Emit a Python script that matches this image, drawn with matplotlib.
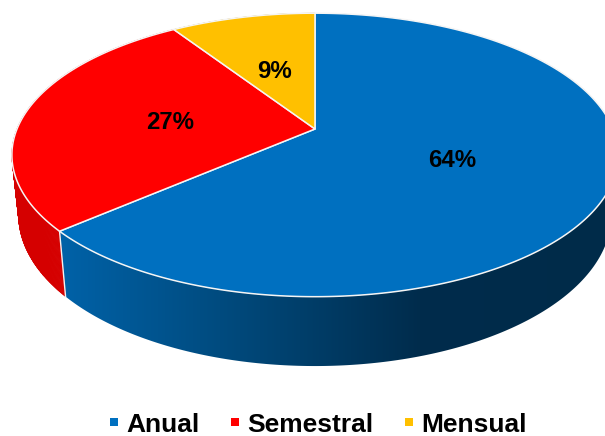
import numpy as np
import matplotlib
matplotlib.use("Agg")
import matplotlib.pyplot as plt
from matplotlib.lines import Line2D
from matplotlib.patches import Polygon
from matplotlib.colors import to_rgb

categories = ["Anual", "Semestral", "Mensual"]
values = [63.6, 27.2, 9.2]
labels = ["64%", "27%", "9%"]
top_colors = ["#0070C0", "#FF0000", "#FFC000"]
flat_wall_colors = [None, "#D50000", "#C89600"]

plt.rcParams["font.family"] = ["Liberation Sans", "DejaVu Sans"]

fig = plt.figure(figsize=(6.05, 4.36), dpi=100)
ax = fig.add_axes([0, 0, 1, 1])

# Perspective projection of the pie's top and bottom circles
CX = 315


def project(theta, apex_y, a, b, k):
    u, v = np.sin(theta), np.cos(theta)
    d = 1 + k * v
    return CX + a * u / d, apex_y - b * v / d


def top(theta):
    return project(theta, 129, 298, 137, 0.183)


def bottom(theta):
    return project(theta + 0.024, 192.4, 293, 147.6, 0.15)


fractions = np.array(values, dtype=float) / sum(values)
edges = np.concatenate([[0], np.cumsum(fractions)]) * 2 * np.pi

# The blue wall's shading runs left to right across the picture
shade_x = np.arange(605)
blue_stops_x = [60, 200, 300, 420, 610]
blue_stops = [to_rgb(c) for c in ["#0062A8", "#004E84", "#003F6B", "#002C4C", "#002B49"]]
blue_shade = np.array([[np.interp(shade_x, blue_stops_x, [s[j] for s in blue_stops])
                        for j in range(3)]]).transpose(0, 2, 1)

# Side walls, painted first so the top face covers the hidden part
for i in range(len(values)):
    th = np.linspace(edges[i], edges[i + 1], 300)
    xt, yt = top(th)
    xb, yb = bottom(th)
    if flat_wall_colors[i] is None:
        poly = Polygon(np.c_[np.r_[xt, xb[::-1]], np.r_[yt, yb[::-1]]],
                       closed=True, transform=ax.transData, fc="none", ec="none")
        ax.add_patch(poly)
        im = ax.imshow(blue_shade, extent=(0, 605, 436, 0), aspect="auto",
                       interpolation="bilinear", zorder=1)
        im.set_clip_path(poly)
    else:
        # Short quads: their union also fills the silhouette where the two rims cross
        for j in range(len(th) - 1):
            ax.fill([xt[j], xt[j + 1], xb[j + 1], xb[j]],
                    [yt[j], yt[j + 1], yb[j + 1], yb[j]],
                    color=flat_wall_colors[i], lw=0.5, zorder=1)

# White seams between the walls
for e in edges[:-1]:
    if np.cos(e) < 0:
        xt, yt = top(e)
        xb, yb = bottom(e)
        ax.plot([xt, xb], [yt, yb], color="#F2F2F2", lw=1.0, zorder=2)

# Top faces
for i in range(len(values)):
    th = np.linspace(edges[i], edges[i + 1], int(fractions[i] * 720) + 2)
    xs, ys = top(th)
    ax.fill(np.r_[CX, xs], np.r_[129, ys], facecolor=top_colors[i],
            edgecolor="#F5F5F5", lw=1.1, joinstyle="round", zorder=3)

# Data labels
label_pos = [(452, 160), (170, 122), (275, 71.5)]
for s, (x, y) in zip(labels, label_pos):
    ax.text(x, y, s, ha="center", va="center", fontsize=17.3,
            fontweight="bold", color="black", zorder=4)

ax.set_xlim(0, 605)
ax.set_ylim(436, 0)
ax.axis("off")

# Legend
handles = [Line2D([], [], ls="none", marker="s", ms=6.3, mfc=c, mec=c, mew=0)
           for c in top_colors]
ax.legend(handles, categories, ncol=3, loc="center",
          bbox_to_anchor=(318 / 605, 1 - 424.5 / 436), frameon=False,
          prop={"size": 19, "weight": "bold"}, handlelength=0.35,
          handletextpad=0.26, columnspacing=1.2, borderpad=0, borderaxespad=0)

fig.savefig("out.png", dpi=100)
